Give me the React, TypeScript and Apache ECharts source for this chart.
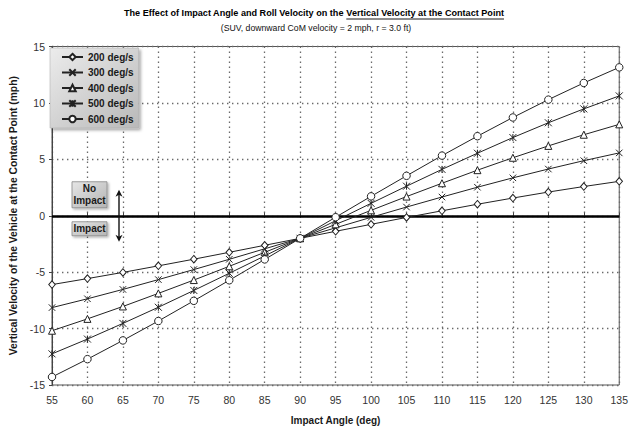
import React, { useEffect, useRef } from "react";
import * as echarts from "echarts";

// Impact angle (deg) on the x axis
const angles = [55, 60, 65, 70, 75, 80, 85, 90, 95, 100, 105, 110, 115, 120, 125, 130, 135];

// Vertical velocity at the contact point (mph) for each roll velocity
const roll200 = [-6.10, -5.57, -5.02, -4.44, -3.85, -3.24, -2.62, -2.0, -1.38, -0.76, -0.15, 0.44, 1.02, 1.57, 2.10, 2.59, 3.05];
const roll300 = [-8.14, -7.36, -6.53, -5.66, -4.77, -3.86, -2.93, -2.0, -1.07, -0.14, 0.77, 1.66, 2.53, 3.36, 4.14, 4.88, 5.57];
const roll400 = [-10.19, -9.14, -8.04, -6.88, -5.70, -4.48, -3.24, -2.0, -0.76, 0.48, 1.70, 2.88, 4.04, 5.14, 6.19, 7.18, 8.10];
const roll500 = [-12.24, -10.93, -9.54, -8.11, -6.62, -5.10, -3.56, -2.0, -0.44, 1.10, 2.62, 4.11, 5.54, 6.93, 8.24, 9.47, 10.62];
const roll600 = [-14.29, -12.71, -11.05, -9.33, -7.54, -5.72, -3.87, -2.0, -0.13, 1.72, 3.54, 5.33, 7.05, 8.71, 10.29, 11.77, 13.15];

const seriesNames = ["200 deg/s", "300 deg/s", "400 deg/s", "500 deg/s", "600 deg/s"];
const seriesValues = [roll200, roll300, roll400, roll500, roll600];

const titleLead = "The Effect of Impact Angle and Roll Velocity on the ";
const titleUnderlined = "Vertical Velocity at the Contact Point";
const subtitle = "(SUV, downward CoM velocity = 2 mph, r = 3.0 ft)";
const xAxisTitle = "Impact Angle (deg)";
const yAxisTitle = "Vertical Velocity of the Vehicle at the Contact Point (mph)";
const noImpactText = "No\nImpact";
const impactText = "Impact";

const FONT = "Arial, 'Liberation Sans', sans-serif";
const INK = "#1a1a1a";

const symbols = [
  "diamond",
  "path://M0,0L10,10M10,0L0,10",
  "triangle",
  "path://M0,0L10,10M10,0L0,10M5,0L5,10",
  "circle",
];
const symbolSizes: any[] = [[6.5, 7.5], 6.5, 7, 7, 7.5];

function textWidth(text: string, font: string): number {
  const ctx = document.createElement("canvas").getContext("2d");
  if (!ctx) return text.length * 6;
  ctx.font = font;
  return ctx.measureText(text).width;
}

function grayFill(a: string, b: string) {
  return new echarts.graphic.LinearGradient(0, 0, 1, 1, [
    { offset: 0, color: a },
    { offset: 1, color: b },
  ]);
}

export default function App() {
  const ref = useRef<HTMLDivElement>(null);

  useEffect(() => {
    if (!ref.current) return;
    const chart = echarts.init(ref.current, undefined, { renderer: "svg" });

    const series: any[] = seriesNames.map((name, i) => ({
      name,
      type: "line",
      data: angles.map((a, j) => [a, seriesValues[i][j]]),
      symbol: symbols[i],
      symbolSize: symbolSizes[i],
      showSymbol: true,
      lineStyle: { color: "#222", width: 1 },
      itemStyle: { color: "#ffffff", borderColor: "#222", borderWidth: 1 },
      emphasis: { disabled: true },
      z: 3,
    }));

    // Thick reference line at zero vertical velocity
    series[0].markLine = {
      silent: true,
      symbol: "none",
      label: { show: false },
      lineStyle: { color: "#000", width: 2.6, type: "solid" },
      data: [{ yAxis: 0 }],
      z: 2,
    };

    chart.setOption({
      animation: false,
      backgroundColor: "#ffffff",
      grid: {
        left: 47,
        right: 8,
        top: 46.5,
        bottom: 42.5,
        show: true,
        borderColor: "#555",
        borderWidth: 1,
      },
      legend: {
        orient: "vertical",
        left: 50,
        top: 48,
        itemWidth: 21,
        itemHeight: 8,
        itemGap: 5.5,
        padding: [4, 5, 4, 11],
        backgroundColor: grayFill("#ececec", "#b9b9b9"),
        borderColor: "#a8a8a8",
        borderWidth: 0.5,
        shadowColor: "rgba(0,0,0,0.35)",
        shadowBlur: 3,
        shadowOffsetX: 2,
        shadowOffsetY: 2,
        textStyle: { fontFamily: FONT, fontWeight: "bold", fontSize: 10, color: INK },
        data: seriesNames,
      },
      xAxis: {
        type: "value",
        min: 55,
        max: 135,
        interval: 5,
        name: xAxisTitle,
        nameLocation: "middle",
        nameGap: 30,
        nameTextStyle: { fontFamily: FONT, fontWeight: "bold", fontSize: 10, color: INK },
        axisLine: { show: true, lineStyle: { color: "#444", width: 1 } },
        axisTick: { show: true, inside: true, length: 3, lineStyle: { color: "#444" } },
        axisLabel: { fontFamily: FONT, fontSize: 10.5, color: "#333", margin: 9 },
        splitLine: { show: true, lineStyle: { color: "#6a6a6a", width: 1.3, type: [1.4, 3.6] } },
      },
      yAxis: {
        type: "value",
        min: -15,
        max: 15,
        interval: 5,
        name: yAxisTitle,
        nameLocation: "middle",
        nameRotate: 90,
        nameGap: 34,
        nameTextStyle: { fontFamily: FONT, fontWeight: "bold", fontSize: 10.3, color: INK },
        axisLine: { show: true, onZero: false, lineStyle: { color: "#444", width: 1 } },
        axisTick: { show: true, length: 3, lineStyle: { color: "#444" } },
        axisLabel: { fontFamily: FONT, fontSize: 10.5, color: "#333", margin: 7 },
        splitLine: { show: true, lineStyle: { color: "#6a6a6a", width: 1.3, type: [1.4, 3.6] } },
      },
      series,
    });

    // Title with the underlined phrase, plus the impact / no-impact annotations
    const titleFont = `bold 9.1px ${FONT}`;
    const w1 = textWidth(titleLead, titleFont);
    const w2 = textWidth(titleUnderlined, titleFont);
    const tx = 314 - (w1 + w2) / 2;
    const ty = 13;

    const origin = chart.convertToPixel({ xAxisIndex: 0, yAxisIndex: 0 }, [55, 0]) as number[];
    const gx = origin[0];
    const zy = origin[1];
    const boxX = gx + 20;
    const arrowX = gx + 67;

    chart.setOption({
      graphic: [
        {
          type: "text",
          x: tx,
          y: ty,
          style: { text: titleLead, font: titleFont, fill: "#000", textAlign: "left", textVerticalAlign: "middle" },
        },
        {
          type: "text",
          x: tx + w1,
          y: ty,
          style: { text: titleUnderlined, font: titleFont, fill: "#000", textAlign: "left", textVerticalAlign: "middle" },
        },
        {
          type: "line",
          shape: { x1: tx + w1, y1: ty + 6, x2: tx + w1 + w2, y2: ty + 6 },
          style: { stroke: "#000", lineWidth: 0.9 },
        },
        {
          type: "text",
          x: 316,
          y: 28,
          style: { text: subtitle, font: `8.7px ${FONT}`, fill: "#111", textAlign: "center", textVerticalAlign: "middle" },
        },
        {
          type: "rect",
          shape: { x: boxX, y: zy - 34, width: 35, height: 26 },
          style: {
            fill: grayFill("#e6e6e6", "#b4b4b4"),
            stroke: "#888",
            lineWidth: 0.8,
            shadowColor: "rgba(0,0,0,0.3)",
            shadowBlur: 2,
            shadowOffsetX: 1.5,
            shadowOffsetY: 1.5,
          },
          z: 10,
        },
        {
          type: "text",
          x: boxX + 17.5,
          y: zy - 21,
          style: {
            text: noImpactText,
            font: `bold 10px ${FONT}`,
            lineHeight: 12,
            fill: INK,
            textAlign: "center",
            textVerticalAlign: "middle",
          },
          z: 11,
        },
        {
          type: "rect",
          shape: { x: boxX, y: zy + 6, width: 35, height: 14 },
          style: {
            fill: grayFill("#e6e6e6", "#b4b4b4"),
            stroke: "#888",
            lineWidth: 0.8,
            shadowColor: "rgba(0,0,0,0.3)",
            shadowBlur: 2,
            shadowOffsetX: 1.5,
            shadowOffsetY: 1.5,
          },
          z: 10,
        },
        {
          type: "text",
          x: boxX + 17.5,
          y: zy + 13,
          style: { text: impactText, font: `bold 10px ${FONT}`, fill: INK, textAlign: "center", textVerticalAlign: "middle" },
          z: 11,
        },
        {
          type: "line",
          shape: { x1: arrowX, y1: zy - 24, x2: arrowX, y2: zy + 24 },
          style: { stroke: "#111", lineWidth: 1.4 },
          z: 10,
        },
        {
          type: "polygon",
          shape: { points: [[arrowX - 3.5, zy - 19], [arrowX, zy - 26], [arrowX + 3.5, zy - 19], [arrowX, zy - 21]] },
          style: { fill: "#111" },
          z: 10,
        },
        {
          type: "polygon",
          shape: { points: [[arrowX - 3.5, zy + 19], [arrowX, zy + 26], [arrowX + 3.5, zy + 19], [arrowX, zy + 21]] },
          style: { fill: "#111" },
          z: 10,
        },
      ],
    });

    return () => chart.dispose();
  }, []);

  return (
    <div
      ref={ref}
      style={{ position: "fixed", left: 0, top: 0, width: 631, height: 430, background: "#fff" }}
    />
  );
}
